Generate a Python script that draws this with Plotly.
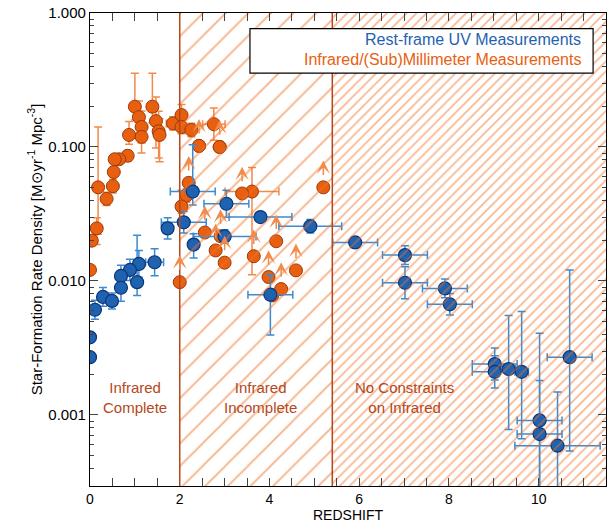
import numpy as np
import plotly.graph_objects as go

# Orange IR/submm measurements: z, sfrd, dex up, dex down, x err
ir_z   = [1.0, 1.39, 1.09, 1.47, 1.15, 0.87, 1.15, 1.53, 1.55, 1.85, 2.04, 2.04, 2.26, 2.43, 2.76, 2.89,
          0.84, 0.65, 0.55, 0.53, 0.51, 0.18, 0.37, 0.15, 0.04, 0.0, 2.15, 2.04, 3.61, 4.06]
ir_y   = [0.20, 0.20, 0.167, 0.156, 0.141, 0.123, 0.119, 0.131, 0.123, 0.150, 0.173, 0.141, 0.134, 0.102, 0.148, 0.100,
          0.086, 0.081, 0.081, 0.065, 0.051, 0.050, 0.041, 0.0247, 0.020, 0.0121, 0.0435, 0.036, 0.0465, 0.0078]
ir_up  = [0.25, 0.25, 0.12, 0.18, 0.12, 0.1, 0.1, 0.15, 0.12, 0.05, 0.08, 0.05, 0.05, 0.0, 0.12, 0.0,
          0.04, 0.03, 0.03, 0.03, 0.05, 0.45, 0.05, 0.08, 0.0, 0.0, 0.05, 0.12, 0.18, 0.0]
ir_dn  = [0.1, 0.12, 0.12, 0.2, 0.12, 0.07, 0.12, 0.2, 0.2, 0.05, 0.08, 0.05, 0.05, 0.0, 0.12, 0.0,
          0.04, 0.03, 0.03, 0.03, 0.05, 0.35, 0.05, 0.12, 0.0, 0.0, 0.05, 0.05, 0.62, 0.0]
ir_xe  = [0, 0, 0, 0, 0, 0, 0, 0, 0, 0.15, 0, 0, 0, 0, 0.25, 0,
          0, 0, 0, 0, 0, 0, 0, 0, 0, 0, 0, 0, 0.6, 0]

# Orange lower limits
lim_z = [2.0, 2.2, 2.56, 2.8, 2.91, 3.0, 3.39, 3.65, 4.15, 3.98, 4.26, 4.59, 5.2, 2.43, 2.89]
lim_y = [0.0098, 0.054, 0.023, 0.0169, 0.0216, 0.0137, 0.045, 0.0153, 0.0198, 0.0107, 0.0087, 0.0120, 0.050, 0.102, 0.100]

# Blue UV measurements
uv_z  = [2.29, 2.09, 1.73, 2.31, 3.04, 3.0, 3.8, 4.91, 4.02, 1.44, 1.09, 0.89, 0.69, 1.05, 0.69, 0.29, 0.49, 0.11,
         0.0, 0.0, 5.91, 7.02, 7.02, 7.91, 8.02, 9.02, 9.02, 9.33, 9.62, 10.69, 10.02, 10.02, 10.42]
uv_y  = [0.0465, 0.0274, 0.0247, 0.0187, 0.0377, 0.0215, 0.030, 0.0256, 0.0079, 0.0138, 0.0134, 0.0121, 0.0109,
         0.0098, 0.0089, 0.0076, 0.0071, 0.0061, 0.0038, 0.0027, 0.0194, 0.0156, 0.0097, 0.0088, 0.0067,
         0.0024, 0.0021, 0.0022, 0.0021, 0.0027, 0.00091, 0.00072, 0.00059]
uv_up = [0.35, 0.08, 0.08, 0.08, 0.1, 0.05, 0.03, 0.05, 0.15, 0.1, 0.1, 0.08, 0.08, 0.35, 0.1, 0.07, 0.06, 0.07,
         0.03, 0.03, 0.04, 0.07, 0.12, 0.07, 0.08, 0.12, 0.12, 0.4, 0.45, 0.65, 0.65, 0.4, 0.4]
uv_dn = [0.1, 0.08, 0.08, 0.1, 0.1, 0.05, 0.03, 0.05, 0.3, 0.1, 0.1, 0.08, 0.08, 0.1, 0.1, 0.07, 0.06, 0.07,
         0.03, 0.03, 0.04, 0.07, 0.12, 0.07, 0.08, 0.12, 0.12, 0.45, 0.5, 0.7, 0.7, 0.9, 0.9]
uv_xe = [0.5, 0.5, 0.0, 0.0, 0.5, 0.7, 0.7, 0.7, 0.5, 0.2, 0, 0, 0, 0, 0, 0, 0, 0,
         0, 0, 0.5, 0.5, 0.5, 0.5, 0.5, 0.5, 0.5, 0.15, 0.15, 0.5, 0.5, 0.5, 0.95]

ORANGE = "#e8600f"; ORANGE_EDGE = "#9c3a0a"; ORANGE_ERR = "#f28a4a"
BLUE = "#1f62b0"; BLUE_EDGE = "#0c3577"; BLUE_ERR = "#3b8ad2"
BROWN = "#b5471b"

def errs(y, up, dn):
    y = np.array(y); up = np.array(up); dn = np.array(dn)
    return y * (10**up - 1), y * (1 - 10**(-dn))

fig = go.Figure()

# hatched regions
fig.add_trace(go.Bar(x=[3.7], y=[1], width=[3.4], yaxis="y2", hoverinfo="skip", showlegend=False,
                     marker=dict(color="rgba(0,0,0,0)", line_width=0,
                                 pattern=dict(shape="/", fgcolor="#f07228", size=16, solidity=0.12, fillmode="overlay"))))
fig.add_trace(go.Bar(x=[8.45], y=[1], width=[6.1], yaxis="y2", hoverinfo="skip", showlegend=False,
                     marker=dict(color="rgba(0,0,0,0)", line_width=0,
                                 pattern=dict(shape="/", fgcolor="#f07228", size=7, solidity=0.25, fillmode="overlay"))))

iu, idn = errs(ir_y, ir_up, ir_dn)
fig.add_trace(go.Scatter(x=ir_z, y=ir_y, mode="markers", showlegend=False,
                         marker=dict(size=13, color=ORANGE, line=dict(color=ORANGE_EDGE, width=1)),
                         error_y=dict(type="data", array=iu, arrayminus=idn, color=ORANGE_ERR, thickness=1.5, width=4),
                         error_x=dict(type="data", array=ir_xe, color=ORANGE_ERR, thickness=1.5, width=4)))
fig.add_trace(go.Scatter(x=lim_z, y=lim_y, mode="markers", showlegend=False,
                         marker=dict(size=13, color=ORANGE, line=dict(color=ORANGE_EDGE, width=1))))
uu, ud = errs(uv_y, uv_up, uv_dn)
fig.add_trace(go.Scatter(x=uv_z, y=uv_y, mode="markers", showlegend=False,
                         marker=dict(size=13, color=BLUE, line=dict(color=BLUE_EDGE, width=1.2)),
                         error_y=dict(type="data", array=uu, arrayminus=ud, color=BLUE_ERR, thickness=1.5, width=4),
                         error_x=dict(type="data", array=uv_xe, color=BLUE_ERR, thickness=1.5, width=4)))

anns = []
for z, y in zip(lim_z, lim_y):
    anns.append(dict(x=z, y=np.log10(y) + 0.2, xref="x", yref="y", ax=0, ay=22, text="", showarrow=True,
                     arrowhead=3, arrowsize=1.5, arrowwidth=1.5, arrowcolor=ORANGE_ERR, standoff=0, startstandoff=6))

font = "Liberation Sans, Arial, sans-serif"
for z, txt in [(1.0, "Infrared<br>Complete"), (3.8, "Infrared<br>Incomplete"), (7.0, "No Constraints<br>on Infrared")]:
    anns.append(dict(x=z, y=np.log10(0.00135), xref="x", yref="y", text=txt, showarrow=False,
                     font=dict(color=BROWN, size=15, family=font), align="center"))
anns.append(dict(x=0.955, y=0.944, xref="paper", yref="paper", xanchor="right", yanchor="middle", showarrow=False,
                 text="Rest-frame UV Measurements", font=dict(color=BLUE, size=16, family=font)))
anns.append(dict(x=0.955, y=0.902, xref="paper", yref="paper", xanchor="right", yanchor="middle", showarrow=False,
                 text="Infrared/(Sub)Millimeter Measurements", font=dict(color=ORANGE, size=16, family=font)))

shapes = [dict(type="line", x0=2, x1=2, y0=0, y1=1, xref="x", yref="paper", line=dict(color=BROWN, width=1.5)),
          dict(type="line", x0=5.4, x1=5.4, y0=0, y1=1, xref="x", yref="paper", line=dict(color=BROWN, width=1.5)),
          dict(type="rect", x0=0.31, x1=0.975, y0=0.873, y1=0.967, xref="paper", yref="paper",
               fillcolor="white", line=dict(color="black", width=1.2), layer="above")]

minor_y = [m * 10.0**e for e in range(-4, 0) for m in range(2, 10)]

fig.update_layout(
    width=608, height=523, margin=dict(l=90, r=2, t=13, b=37),
    plot_bgcolor="white", paper_bgcolor="white", barmode="overlay", bargap=0,
    font=dict(family=font, size=15, color="black"),
    annotations=anns, shapes=shapes,
    xaxis=dict(range=[0, 11.5], tickvals=[0, 2, 4, 6, 8, 10], ticks="inside", ticklen=8, mirror="allticks",
               showline=True, linecolor="black", linewidth=1.2, showgrid=False, zeroline=False, automargin=False,
               tickfont=dict(size=14),
               minor=dict(tickvals=list(np.arange(0.5, 11.5, 0.5)), ticks="inside", ticklen=4, showgrid=False),
               title=dict(text="REDSHIFT", font=dict(size=14), standoff=0)),
    yaxis=dict(type="log", range=[-3.53, 0.0], tickvals=[0.001, 0.01, 0.1, 1.0],
               ticktext=["0.001", "0.010", "0.100", "1.000"], ticks="inside", ticklen=8, mirror="allticks",
               showline=True, linecolor="black", linewidth=1.2, showgrid=False, zeroline=False, automargin=False,
               minor=dict(tickvals=minor_y, ticks="inside", ticklen=4, showgrid=False),
               title=dict(text="Star-Formation Rate Density [M⊙yr<sup>-1</sup> Mpc<sup>-3</sup>]", font=dict(size=15), standoff=2)),
    yaxis2=dict(overlaying="y", range=[0, 1], visible=False),
)
fig.write_html("out.html", config={"displayModeBar": False},
               post_script="document.body.style.margin='0';document.body.style.overflow='hidden';")
